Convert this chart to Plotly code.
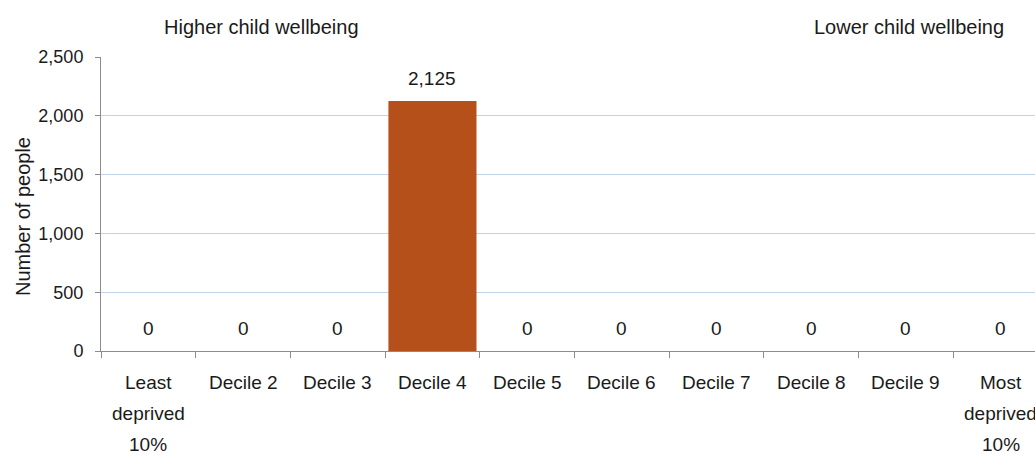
import plotly.graph_objects as go

# ---- data ----
label_lines = [
    ["Least", "deprived", "10%"],
    ["Decile 2"], ["Decile 3"], ["Decile 4"], ["Decile 5"],
    ["Decile 6"], ["Decile 7"], ["Decile 8"], ["Decile 9"],
    ["Most", "deprived", "10%"],
]
categories = [" ".join(l) for l in label_lines]
values = [0, 0, 0, 2125, 0, 0, 0, 0, 0, 0]
value_text = ["{:,}".format(v) for v in values]
y_ticks = [0, 500, 1000, 1500, 2000, 2500]
y_ticktext = ["{:,}".format(v) for v in y_ticks]
top_left_label = "Higher child wellbeing"
top_right_label = "Lower child wellbeing"
y_title = "Number of people"

FONT = "Liberation Sans, Arial, sans-serif"
FS_TOP = 20
FS_LAB = 19
FS_TICK = 18
TXT = "#1a1a1a"
W, H = 1035, 454
ML, MT, MB = 101, 57, 103

fig = go.Figure()
fig.add_trace(go.Bar(
    x=categories, y=values, width=0.93,
    marker=dict(color="#B6501A", line=dict(width=0)),
    hoverinfo="skip",
))

ann = []
# data labels
for c, v, t in zip(categories, values, value_text):
    ann.append(dict(x=c, y=v, xref="x", yref="y", text=t, showarrow=False,
                    yanchor="middle", yshift=23,
                    font=dict(family=FONT, size=FS_LAB, color=TXT)))
# x category labels (multi-line)
plot_h = H - MT - MB
for c, lines in zip(categories, label_lines):
    for i, line in enumerate(lines):
        ypix = 383 + i * 30.5  # from top of figure
        ypaper = (H - MB - ypix) / plot_h
        ann.append(dict(x=c, y=ypaper, xref="x", yref="paper", text=line,
                        showarrow=False, yanchor="middle", xanchor="center",
                        font=dict(family=FONT, size=FS_LAB, color=TXT)))
plot_w = W - ML
ann.append(dict(x=(261 - ML) / plot_w, y=(H - MB - 27) / plot_h, xref="paper", yref="paper",
                text=top_left_label, showarrow=False, xanchor="center", yanchor="middle",
                font=dict(family=FONT, size=FS_TOP, color=TXT)))
ann.append(dict(x=(1006 - ML) / plot_w, y=(H - MB - 27) / plot_h, xref="paper", yref="paper",
                text=top_right_label, showarrow=False, xanchor="right", yanchor="middle",
                font=dict(family=FONT, size=FS_TOP, color=TXT)))
ann.append(dict(x=(23 - ML) / plot_w, y=(H - MB - 217) / plot_h, xref="paper", yref="paper",
                text=y_title, showarrow=False, textangle=-90, xanchor="center", yanchor="middle",
                font=dict(family=FONT, size=FS_TOP, color=TXT)))

cat_px = 94.7
x_end = (W - ML) / cat_px - 0.5

fig.update_layout(
    width=W, height=H,
    margin=dict(l=ML, r=0, t=MT, b=MB, pad=0),
    paper_bgcolor="white", plot_bgcolor="white",
    showlegend=False,
    annotations=ann,
    font=dict(family=FONT, size=FS_LAB, color=TXT),
    xaxis=dict(
        type="category", range=[-0.5, x_end],
        showticklabels=False, tickson="boundaries", ticks="outside", ticklen=6,
        tickcolor="#8C8C8C", tickwidth=1,
        showline=True, linecolor="#8C8C8C", linewidth=1,
        showgrid=False, zeroline=False, fixedrange=True,
    ),
    yaxis=dict(
        range=[0, 2500], tickmode="array", tickvals=y_ticks, ticktext=y_ticktext,
        ticks="outside", ticklen=5, tickcolor="#8C8C8C", tickwidth=1,
        showline=True, linecolor="#8C8C8C", linewidth=1,
        showgrid=True, gridcolor="#C3D3E8", gridwidth=1,
        zeroline=False, ticklabelstandoff=8,
        tickfont=dict(family=FONT, size=FS_TICK, color=TXT),
        fixedrange=True,
    ),
)

fig.write_html("out.html", config={"displayModeBar": False},
               post_script="document.body.style.margin='0';document.body.style.overflow='hidden';")
